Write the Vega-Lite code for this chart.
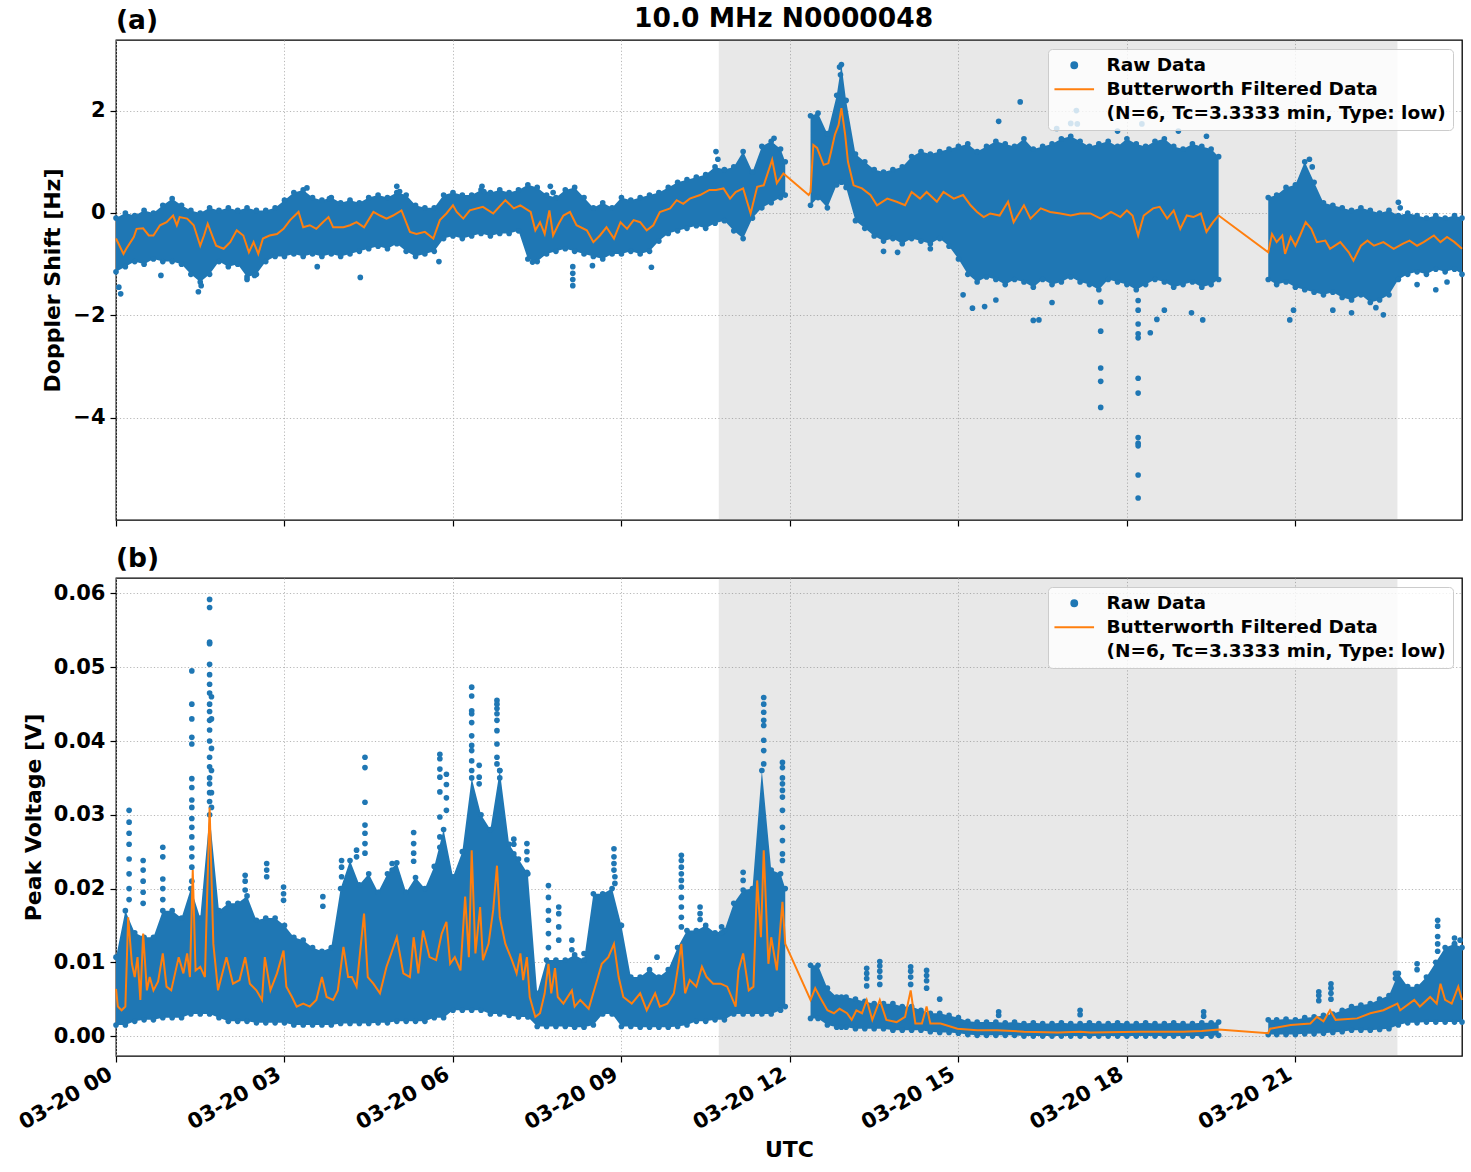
{
  "$schema": "https://vega.github.io/schema/vega-lite/v6.json",
  "padding": {"left": 14, "right": 9, "top": 6, "bottom": 4},
  "title": {"text": "10.0 MHz N0000048", "anchor": "middle", "dy": 32, "dx": 43},
  "datasets": {
    "shade": [{"start": "2024-03-20T10:44", "end": "2024-03-20T22:49"}],
    "band": [
      {"t": "2024-03-20T00:00", "s": 1, "dl": -1.15, "dh": -0.10, "vl": 0.0015, "vh": 0.0107},
      {"t": "2024-03-20T00:10", "s": 1, "dl": -1.05, "dh": 0.00, "vl": 0.0015, "vh": 0.0170},
      {"t": "2024-03-20T00:20", "s": 1, "dl": -0.95, "dh": -0.05, "vl": 0.0020, "vh": 0.0140},
      {"t": "2024-03-20T00:30", "s": 1, "dl": -1.00, "dh": 0.05, "vl": 0.0022, "vh": 0.0134},
      {"t": "2024-03-20T00:40", "s": 1, "dl": -0.90, "dh": 0.00, "vl": 0.0022, "vh": 0.0134},
      {"t": "2024-03-20T00:50", "s": 1, "dl": -0.95, "dh": 0.15, "vl": 0.0025, "vh": 0.0170},
      {"t": "2024-03-20T01:00", "s": 1, "dl": -0.95, "dh": 0.28, "vl": 0.0025, "vh": 0.0170},
      {"t": "2024-03-20T01:10", "s": 1, "dl": -1.00, "dh": 0.15, "vl": 0.0025, "vh": 0.0160},
      {"t": "2024-03-20T01:20", "s": 1, "dl": -1.20, "dh": 0.05, "vl": 0.0030, "vh": 0.0200},
      {"t": "2024-03-20T01:30", "s": 1, "dl": -1.35, "dh": 0.00, "vl": 0.0030, "vh": 0.0160},
      {"t": "2024-03-20T01:40", "s": 1, "dl": -1.20, "dh": 0.10, "vl": 0.0030, "vh": 0.0300},
      {"t": "2024-03-20T01:50", "s": 1, "dl": -0.95, "dh": 0.05, "vl": 0.0025, "vh": 0.0170},
      {"t": "2024-03-20T02:00", "s": 1, "dl": -1.05, "dh": 0.10, "vl": 0.0020, "vh": 0.0180},
      {"t": "2024-03-20T02:10", "s": 1, "dl": -1.00, "dh": 0.05, "vl": 0.0020, "vh": 0.0180},
      {"t": "2024-03-20T02:20", "s": 1, "dl": -1.25, "dh": 0.10, "vl": 0.0020, "vh": 0.0190},
      {"t": "2024-03-20T02:30", "s": 1, "dl": -1.20, "dh": 0.05, "vl": 0.0018, "vh": 0.0157},
      {"t": "2024-03-20T02:40", "s": 1, "dl": -0.95, "dh": 0.05, "vl": 0.0018, "vh": 0.0160},
      {"t": "2024-03-20T02:50", "s": 1, "dl": -0.85, "dh": 0.10, "vl": 0.0018, "vh": 0.0160},
      {"t": "2024-03-20T03:00", "s": 1, "dl": -0.85, "dh": 0.25, "vl": 0.0018, "vh": 0.0150},
      {"t": "2024-03-20T03:10", "s": 1, "dl": -0.80, "dh": 0.40, "vl": 0.0015, "vh": 0.0134},
      {"t": "2024-03-20T03:20", "s": 1, "dl": -0.85, "dh": 0.45, "vl": 0.0015, "vh": 0.0130},
      {"t": "2024-03-20T03:30", "s": 1, "dl": -0.80, "dh": 0.30, "vl": 0.0015, "vh": 0.0120},
      {"t": "2024-03-20T03:40", "s": 1, "dl": -0.85, "dh": 0.25, "vl": 0.0015, "vh": 0.0115},
      {"t": "2024-03-20T03:50", "s": 1, "dl": -0.80, "dh": 0.30, "vl": 0.0015, "vh": 0.0120},
      {"t": "2024-03-20T04:00", "s": 1, "dl": -0.85, "dh": 0.20, "vl": 0.0017, "vh": 0.0200},
      {"t": "2024-03-20T04:10", "s": 1, "dl": -0.80, "dh": 0.25, "vl": 0.0017, "vh": 0.0238},
      {"t": "2024-03-20T04:20", "s": 1, "dl": -0.75, "dh": 0.20, "vl": 0.0017, "vh": 0.0205},
      {"t": "2024-03-20T04:30", "s": 1, "dl": -0.70, "dh": 0.30, "vl": 0.0017, "vh": 0.0220},
      {"t": "2024-03-20T04:40", "s": 1, "dl": -0.65, "dh": 0.35, "vl": 0.0018, "vh": 0.0195},
      {"t": "2024-03-20T04:50", "s": 1, "dl": -0.70, "dh": 0.30, "vl": 0.0018, "vh": 0.0220},
      {"t": "2024-03-20T05:00", "s": 1, "dl": -0.60, "dh": 0.40, "vl": 0.0020, "vh": 0.0235},
      {"t": "2024-03-20T05:10", "s": 1, "dl": -0.75, "dh": 0.35, "vl": 0.0020, "vh": 0.0195},
      {"t": "2024-03-20T05:20", "s": 1, "dl": -0.85, "dh": 0.15, "vl": 0.0020, "vh": 0.0215},
      {"t": "2024-03-20T05:30", "s": 1, "dl": -0.80, "dh": 0.10, "vl": 0.0020, "vh": 0.0200},
      {"t": "2024-03-20T05:40", "s": 1, "dl": -0.75, "dh": 0.10, "vl": 0.0025, "vh": 0.0230},
      {"t": "2024-03-20T05:50", "s": 1, "dl": -0.50, "dh": 0.35, "vl": 0.0025, "vh": 0.0280},
      {"t": "2024-03-20T06:00", "s": 1, "dl": -0.45, "dh": 0.40, "vl": 0.0035, "vh": 0.0216},
      {"t": "2024-03-20T06:10", "s": 1, "dl": -0.50, "dh": 0.35, "vl": 0.0035, "vh": 0.0250},
      {"t": "2024-03-20T06:20", "s": 1, "dl": -0.45, "dh": 0.35, "vl": 0.0035, "vh": 0.0350},
      {"t": "2024-03-20T06:30", "s": 1, "dl": -0.40, "dh": 0.45, "vl": 0.0035, "vh": 0.0300},
      {"t": "2024-03-20T06:40", "s": 1, "dl": -0.45, "dh": 0.40, "vl": 0.0030, "vh": 0.0280},
      {"t": "2024-03-20T06:50", "s": 1, "dl": -0.40, "dh": 0.45, "vl": 0.0030, "vh": 0.0360},
      {"t": "2024-03-20T07:00", "s": 1, "dl": -0.40, "dh": 0.40, "vl": 0.0028, "vh": 0.0260},
      {"t": "2024-03-20T07:10", "s": 1, "dl": -0.35, "dh": 0.45, "vl": 0.0026, "vh": 0.0240},
      {"t": "2024-03-20T07:20", "s": 1, "dl": -0.90, "dh": 0.55, "vl": 0.0026, "vh": 0.0220},
      {"t": "2024-03-20T07:30", "s": 1, "dl": -0.95, "dh": 0.50, "vl": 0.0013, "vh": 0.0058},
      {"t": "2024-03-20T07:40", "s": 1, "dl": -0.80, "dh": 0.35, "vl": 0.0013, "vh": 0.0103},
      {"t": "2024-03-20T07:50", "s": 1, "dl": -0.75, "dh": 0.30, "vl": 0.0013, "vh": 0.0103},
      {"t": "2024-03-20T08:00", "s": 1, "dl": -0.70, "dh": 0.45, "vl": 0.0013, "vh": 0.0103},
      {"t": "2024-03-20T08:10", "s": 1, "dl": -0.75, "dh": 0.50, "vl": 0.0012, "vh": 0.0110},
      {"t": "2024-03-20T08:20", "s": 1, "dl": -0.80, "dh": 0.30, "vl": 0.0012, "vh": 0.0103},
      {"t": "2024-03-20T08:30", "s": 1, "dl": -0.85, "dh": 0.10, "vl": 0.0015, "vh": 0.0193},
      {"t": "2024-03-20T08:40", "s": 1, "dl": -0.90, "dh": 0.20, "vl": 0.0030, "vh": 0.0193},
      {"t": "2024-03-20T08:50", "s": 1, "dl": -0.80, "dh": 0.10, "vl": 0.0030, "vh": 0.0200},
      {"t": "2024-03-20T09:00", "s": 1, "dl": -0.80, "dh": 0.30, "vl": 0.0013, "vh": 0.0150},
      {"t": "2024-03-20T09:10", "s": 1, "dl": -0.75, "dh": 0.25, "vl": 0.0013, "vh": 0.0080},
      {"t": "2024-03-20T09:20", "s": 1, "dl": -0.80, "dh": 0.30, "vl": 0.0012, "vh": 0.0080},
      {"t": "2024-03-20T09:30", "s": 1, "dl": -0.75, "dh": 0.35, "vl": 0.0012, "vh": 0.0090},
      {"t": "2024-03-20T09:40", "s": 1, "dl": -0.55, "dh": 0.40, "vl": 0.0012, "vh": 0.0080},
      {"t": "2024-03-20T09:50", "s": 1, "dl": -0.40, "dh": 0.50, "vl": 0.0012, "vh": 0.0090},
      {"t": "2024-03-20T10:00", "s": 1, "dl": -0.35, "dh": 0.60, "vl": 0.0013, "vh": 0.0120},
      {"t": "2024-03-20T10:10", "s": 1, "dl": -0.30, "dh": 0.65, "vl": 0.0015, "vh": 0.0143},
      {"t": "2024-03-20T10:20", "s": 1, "dl": -0.25, "dh": 0.70, "vl": 0.0020, "vh": 0.0143},
      {"t": "2024-03-20T10:30", "s": 1, "dl": -0.30, "dh": 0.75, "vl": 0.0020, "vh": 0.0150},
      {"t": "2024-03-20T10:40", "s": 1, "dl": -0.20, "dh": 0.90, "vl": 0.0022, "vh": 0.0140},
      {"t": "2024-03-20T10:50", "s": 1, "dl": -0.15, "dh": 0.85, "vl": 0.0022, "vh": 0.0143},
      {"t": "2024-03-20T11:00", "s": 1, "dl": -0.35, "dh": 0.90, "vl": 0.0030, "vh": 0.0180},
      {"t": "2024-03-20T11:10", "s": 1, "dl": -0.50, "dh": 1.20, "vl": 0.0030, "vh": 0.0198},
      {"t": "2024-03-20T11:20", "s": 1, "dl": -0.10, "dh": 0.80, "vl": 0.0030, "vh": 0.0200},
      {"t": "2024-03-20T11:30", "s": 1, "dl": 0.10, "dh": 1.30, "vl": 0.0030, "vh": 0.0360},
      {"t": "2024-03-20T11:40", "s": 1, "dl": 0.20, "dh": 1.40, "vl": 0.0030, "vh": 0.0225},
      {"t": "2024-03-20T11:50", "s": 1, "dl": 0.30, "dh": 1.25, "vl": 0.0035, "vh": 0.0220},
      {"t": "2024-03-20T11:55", "s": 1, "dl": 0.35, "dh": 1.00, "vl": 0.0040, "vh": 0.0200},
      {"t": "2024-03-20T12:22", "s": 2, "dl": 0.15, "dh": 1.90, "vl": 0.0024, "vh": 0.0096},
      {"t": "2024-03-20T12:30", "s": 2, "dl": 0.30, "dh": 1.95, "vl": 0.0024, "vh": 0.0096},
      {"t": "2024-03-20T12:40", "s": 2, "dl": 0.10, "dh": 1.55, "vl": 0.0015, "vh": 0.0065},
      {"t": "2024-03-20T12:50", "s": 2, "dl": 0.55, "dh": 2.30, "vl": 0.0012, "vh": 0.0053},
      {"t": "2024-03-20T12:55", "s": 2, "dl": 0.60, "dh": 2.90, "vl": 0.0012, "vh": 0.0053},
      {"t": "2024-03-20T13:00", "s": 2, "dl": 0.50, "dh": 2.20, "vl": 0.0012, "vh": 0.0053},
      {"t": "2024-03-20T13:10", "s": 2, "dl": -0.15, "dh": 1.15, "vl": 0.0010, "vh": 0.0050},
      {"t": "2024-03-20T13:20", "s": 2, "dl": -0.30, "dh": 1.00, "vl": 0.0010, "vh": 0.0047},
      {"t": "2024-03-20T13:30", "s": 2, "dl": -0.45, "dh": 0.85, "vl": 0.0010, "vh": 0.0044},
      {"t": "2024-03-20T13:40", "s": 2, "dl": -0.55, "dh": 0.80, "vl": 0.0010, "vh": 0.0044},
      {"t": "2024-03-20T13:50", "s": 2, "dl": -0.50, "dh": 0.85, "vl": 0.0008, "vh": 0.0044},
      {"t": "2024-03-20T14:00", "s": 2, "dl": -0.60, "dh": 0.90, "vl": 0.0008, "vh": 0.0040},
      {"t": "2024-03-20T14:10", "s": 2, "dl": -0.50, "dh": 1.10, "vl": 0.0008, "vh": 0.0040},
      {"t": "2024-03-20T14:20", "s": 2, "dl": -0.55, "dh": 1.20, "vl": 0.0008, "vh": 0.0035},
      {"t": "2024-03-20T14:30", "s": 2, "dl": -0.60, "dh": 1.15, "vl": 0.0006, "vh": 0.0031},
      {"t": "2024-03-20T14:40", "s": 2, "dl": -0.50, "dh": 1.20, "vl": 0.0005, "vh": 0.0031},
      {"t": "2024-03-20T14:50", "s": 2, "dl": -0.65, "dh": 1.25, "vl": 0.0005, "vh": 0.0028},
      {"t": "2024-03-20T15:00", "s": 2, "dl": -0.90, "dh": 1.30, "vl": 0.0004, "vh": 0.0025},
      {"t": "2024-03-20T15:10", "s": 2, "dl": -1.20, "dh": 1.35, "vl": 0.0002, "vh": 0.0020},
      {"t": "2024-03-20T15:20", "s": 2, "dl": -1.35, "dh": 1.20, "vl": 0.0001, "vh": 0.0019},
      {"t": "2024-03-20T15:30", "s": 2, "dl": -1.25, "dh": 1.30, "vl": 0.0001, "vh": 0.0019},
      {"t": "2024-03-20T15:40", "s": 2, "dl": -1.30, "dh": 1.40, "vl": 0.0001, "vh": 0.0019},
      {"t": "2024-03-20T15:50", "s": 2, "dl": -1.40, "dh": 1.35, "vl": 0.0001, "vh": 0.0018},
      {"t": "2024-03-20T16:00", "s": 2, "dl": -1.30, "dh": 1.30, "vl": 0.0001, "vh": 0.0019},
      {"t": "2024-03-20T16:10", "s": 2, "dl": -1.35, "dh": 1.45, "vl": 0.0000, "vh": 0.0017},
      {"t": "2024-03-20T16:20", "s": 2, "dl": -1.45, "dh": 1.25, "vl": 0.0000, "vh": 0.0018},
      {"t": "2024-03-20T16:30", "s": 2, "dl": -1.30, "dh": 1.30, "vl": 0.0000, "vh": 0.0017},
      {"t": "2024-03-20T16:40", "s": 2, "dl": -1.40, "dh": 1.35, "vl": 0.0000, "vh": 0.0017},
      {"t": "2024-03-20T16:50", "s": 2, "dl": -1.35, "dh": 1.45, "vl": 0.0000, "vh": 0.0018},
      {"t": "2024-03-20T17:00", "s": 2, "dl": -1.25, "dh": 1.50, "vl": 0.0000, "vh": 0.0017},
      {"t": "2024-03-20T17:10", "s": 2, "dl": -1.35, "dh": 1.40, "vl": 0.0000, "vh": 0.0017},
      {"t": "2024-03-20T17:20", "s": 2, "dl": -1.40, "dh": 1.30, "vl": 0.0000, "vh": 0.0018},
      {"t": "2024-03-20T17:30", "s": 2, "dl": -1.50, "dh": 1.35, "vl": 0.0000, "vh": 0.0017},
      {"t": "2024-03-20T17:40", "s": 2, "dl": -1.30, "dh": 1.40, "vl": 0.0000, "vh": 0.0017},
      {"t": "2024-03-20T17:50", "s": 2, "dl": -1.35, "dh": 1.30, "vl": 0.0000, "vh": 0.0018},
      {"t": "2024-03-20T18:00", "s": 2, "dl": -1.40, "dh": 1.45, "vl": 0.0000, "vh": 0.0017},
      {"t": "2024-03-20T18:10", "s": 2, "dl": -1.50, "dh": 1.35, "vl": 0.0000, "vh": 0.0017},
      {"t": "2024-03-20T18:20", "s": 2, "dl": -1.40, "dh": 1.30, "vl": 0.0000, "vh": 0.0018},
      {"t": "2024-03-20T18:30", "s": 2, "dl": -1.30, "dh": 1.40, "vl": 0.0000, "vh": 0.0017},
      {"t": "2024-03-20T18:40", "s": 2, "dl": -1.35, "dh": 1.45, "vl": 0.0000, "vh": 0.0017},
      {"t": "2024-03-20T18:50", "s": 2, "dl": -1.45, "dh": 1.30, "vl": 0.0000, "vh": 0.0018},
      {"t": "2024-03-20T19:00", "s": 2, "dl": -1.40, "dh": 1.25, "vl": 0.0000, "vh": 0.0017},
      {"t": "2024-03-20T19:10", "s": 2, "dl": -1.35, "dh": 1.35, "vl": 0.0000, "vh": 0.0017},
      {"t": "2024-03-20T19:20", "s": 2, "dl": -1.45, "dh": 1.30, "vl": 0.0000, "vh": 0.0018},
      {"t": "2024-03-20T19:30", "s": 2, "dl": -1.40, "dh": 1.25, "vl": 0.0000, "vh": 0.0018},
      {"t": "2024-03-20T19:38", "s": 2, "dl": -1.30, "dh": 1.10, "vl": 0.0001, "vh": 0.0019},
      {"t": "2024-03-20T20:31", "s": 3, "dl": -1.30, "dh": 0.30, "vl": 0.0002, "vh": 0.0022},
      {"t": "2024-03-20T20:40", "s": 3, "dl": -1.40, "dh": 0.35, "vl": 0.0002, "vh": 0.0022},
      {"t": "2024-03-20T20:50", "s": 3, "dl": -1.35, "dh": 0.50, "vl": 0.0002, "vh": 0.0023},
      {"t": "2024-03-20T21:00", "s": 3, "dl": -1.45, "dh": 0.55, "vl": 0.0002, "vh": 0.0022},
      {"t": "2024-03-20T21:10", "s": 3, "dl": -1.50, "dh": 1.00, "vl": 0.0003, "vh": 0.0025},
      {"t": "2024-03-20T21:20", "s": 3, "dl": -1.55, "dh": 0.60, "vl": 0.0003, "vh": 0.0026},
      {"t": "2024-03-20T21:30", "s": 3, "dl": -1.60, "dh": 0.20, "vl": 0.0004, "vh": 0.0028},
      {"t": "2024-03-20T21:40", "s": 3, "dl": -1.55, "dh": 0.15, "vl": 0.0005, "vh": 0.0030},
      {"t": "2024-03-20T21:50", "s": 3, "dl": -1.65, "dh": 0.10, "vl": 0.0006, "vh": 0.0035},
      {"t": "2024-03-20T22:00", "s": 3, "dl": -1.70, "dh": 0.05, "vl": 0.0008, "vh": 0.0040},
      {"t": "2024-03-20T22:10", "s": 3, "dl": -1.60, "dh": 0.10, "vl": 0.0008, "vh": 0.0042},
      {"t": "2024-03-20T22:20", "s": 3, "dl": -1.75, "dh": 0.05, "vl": 0.0008, "vh": 0.0044},
      {"t": "2024-03-20T22:30", "s": 3, "dl": -1.70, "dh": 0.00, "vl": 0.0009, "vh": 0.0050},
      {"t": "2024-03-20T22:40", "s": 3, "dl": -1.60, "dh": 0.05, "vl": 0.0010, "vh": 0.0055},
      {"t": "2024-03-20T22:50", "s": 3, "dl": -1.30, "dh": -0.05, "vl": 0.0015, "vh": 0.0085},
      {"t": "2024-03-20T23:00", "s": 3, "dl": -1.20, "dh": 0.00, "vl": 0.0018, "vh": 0.0067},
      {"t": "2024-03-20T23:10", "s": 3, "dl": -1.15, "dh": -0.05, "vl": 0.0018, "vh": 0.0067},
      {"t": "2024-03-20T23:20", "s": 3, "dl": -1.20, "dh": -0.10, "vl": 0.0019, "vh": 0.0080},
      {"t": "2024-03-20T23:30", "s": 3, "dl": -1.10, "dh": -0.05, "vl": 0.0019, "vh": 0.0100},
      {"t": "2024-03-20T23:40", "s": 3, "dl": -1.15, "dh": -0.10, "vl": 0.0019, "vh": 0.0120},
      {"t": "2024-03-20T23:50", "s": 3, "dl": -1.10, "dh": -0.05, "vl": 0.0019, "vh": 0.0125},
      {"t": "2024-03-20T23:58", "s": 3, "dl": -1.20, "dh": -0.10, "vl": 0.0019, "vh": 0.0120}
    ],
    "od": [
      {"t": "2024-03-20T00:03", "d": -1.45}, {"t": "2024-03-20T00:05", "d": -1.58}, {"t": "2024-03-20T00:48", "d": -1.22},
      {"t": "2024-03-20T01:28", "d": -1.54}, {"t": "2024-03-20T01:31", "d": -1.42}, {"t": "2024-03-20T02:20", "d": -1.30},
      {"t": "2024-03-20T02:28", "d": -1.22}, {"t": "2024-03-20T03:24", "d": 0.49}, {"t": "2024-03-20T03:48", "d": 0.28},
      {"t": "2024-03-20T03:35", "d": -1.05}, {"t": "2024-03-20T04:21", "d": -1.26}, {"t": "2024-03-20T05:00", "d": 0.52},
      {"t": "2024-03-20T05:03", "d": 0.42}, {"t": "2024-03-20T05:45", "d": -0.95}, {"t": "2024-03-20T06:31", "d": 0.52},
      {"t": "2024-03-20T06:33", "d": 0.42}, {"t": "2024-03-20T07:44", "d": 0.52}, {"t": "2024-03-20T07:47", "d": 0.40},
      {"t": "2024-03-20T07:25", "d": -0.96}, {"t": "2024-03-20T08:08", "d": -1.05}, {"t": "2024-03-20T08:08", "d": -1.18},
      {"t": "2024-03-20T08:08", "d": -1.30}, {"t": "2024-03-20T08:08", "d": -1.42}, {"t": "2024-03-20T08:29", "d": -1.03},
      {"t": "2024-03-20T09:32", "d": -1.06}, {"t": "2024-03-20T10:41", "d": 1.20}, {"t": "2024-03-20T10:43", "d": 1.05},
      {"t": "2024-03-20T11:43", "d": 1.46}, {"t": "2024-03-20T11:41", "d": 1.30}, {"t": "2024-03-20T12:53", "d": 2.85},
      {"t": "2024-03-20T12:54", "d": 2.70}, {"t": "2024-03-20T13:40", "d": -0.75}, {"t": "2024-03-20T13:55", "d": -0.77},
      {"t": "2024-03-20T14:30", "d": -0.70}, {"t": "2024-03-20T15:05", "d": -1.60}, {"t": "2024-03-20T15:15", "d": -1.86},
      {"t": "2024-03-20T15:28", "d": -1.83}, {"t": "2024-03-20T15:40", "d": -1.70}, {"t": "2024-03-20T15:43", "d": 1.79},
      {"t": "2024-03-20T16:06", "d": 2.17}, {"t": "2024-03-20T16:20", "d": -2.10}, {"t": "2024-03-20T16:26", "d": -2.09},
      {"t": "2024-03-20T16:40", "d": -1.75}, {"t": "2024-03-20T16:45", "d": 1.65}, {"t": "2024-03-20T17:00", "d": 1.75},
      {"t": "2024-03-20T17:06", "d": 2.00}, {"t": "2024-03-20T17:07", "d": 1.74}, {"t": "2024-03-20T17:32", "d": -1.74},
      {"t": "2024-03-20T17:32", "d": -2.31}, {"t": "2024-03-20T17:32", "d": -3.03}, {"t": "2024-03-20T17:32", "d": -3.29},
      {"t": "2024-03-20T17:32", "d": -3.80}, {"t": "2024-03-20T17:50", "d": 1.60}, {"t": "2024-03-20T18:12", "d": -1.71},
      {"t": "2024-03-20T18:12", "d": -1.90}, {"t": "2024-03-20T18:12", "d": -2.17}, {"t": "2024-03-20T18:12", "d": -2.36},
      {"t": "2024-03-20T18:12", "d": -2.44}, {"t": "2024-03-20T18:12", "d": -3.23}, {"t": "2024-03-20T18:12", "d": -3.52},
      {"t": "2024-03-20T18:12", "d": -4.39}, {"t": "2024-03-20T18:12", "d": -4.50}, {"t": "2024-03-20T18:12", "d": -4.55},
      {"t": "2024-03-20T18:12", "d": -5.12}, {"t": "2024-03-20T18:12", "d": -5.57}, {"t": "2024-03-20T18:16", "d": 1.74},
      {"t": "2024-03-20T18:25", "d": -2.34}, {"t": "2024-03-20T18:32", "d": -2.08}, {"t": "2024-03-20T18:40", "d": -1.90},
      {"t": "2024-03-20T18:55", "d": 1.60}, {"t": "2024-03-20T19:09", "d": -1.95}, {"t": "2024-03-20T19:21", "d": -2.09},
      {"t": "2024-03-20T19:25", "d": 1.50}, {"t": "2024-03-20T20:54", "d": -2.09}, {"t": "2024-03-20T20:58", "d": -1.90},
      {"t": "2024-03-20T21:15", "d": 1.05}, {"t": "2024-03-20T21:18", "d": 0.90}, {"t": "2024-03-20T21:40", "d": -1.90},
      {"t": "2024-03-20T22:00", "d": -1.95}, {"t": "2024-03-20T22:34", "d": -1.99}, {"t": "2024-03-20T22:26", "d": -1.85},
      {"t": "2024-03-20T22:50", "d": 0.21}, {"t": "2024-03-20T22:52", "d": 0.10}, {"t": "2024-03-20T23:30", "d": -1.50},
      {"t": "2024-03-20T23:42", "d": -1.35}, {"t": "2024-03-20T23:10", "d": -1.40}
    ],
    "ov": [
      {"t": "2024-03-20T00:14", "v": 0.0306}, {"t": "2024-03-20T00:14", "v": 0.0290}, {"t": "2024-03-20T00:14", "v": 0.0275}, {"t": "2024-03-20T00:14", "v": 0.0260}, {"t": "2024-03-20T00:14", "v": 0.0240}, {"t": "2024-03-20T00:14", "v": 0.0220}, {"t": "2024-03-20T00:14", "v": 0.0200}, {"t": "2024-03-20T00:14", "v": 0.0185},
      {"t": "2024-03-20T00:29", "v": 0.0238}, {"t": "2024-03-20T00:29", "v": 0.0225}, {"t": "2024-03-20T00:29", "v": 0.0210}, {"t": "2024-03-20T00:29", "v": 0.0195}, {"t": "2024-03-20T00:29", "v": 0.0180},
      {"t": "2024-03-20T00:50", "v": 0.0256}, {"t": "2024-03-20T00:50", "v": 0.0243}, {"t": "2024-03-20T00:50", "v": 0.0213}, {"t": "2024-03-20T00:50", "v": 0.0200}, {"t": "2024-03-20T00:50", "v": 0.0185},
      {"t": "2024-03-20T01:21", "v": 0.0495}, {"t": "2024-03-20T01:21", "v": 0.0450}, {"t": "2024-03-20T01:21", "v": 0.0430}, {"t": "2024-03-20T01:21", "v": 0.0405}, {"t": "2024-03-20T01:21", "v": 0.0396}, {"t": "2024-03-20T01:21", "v": 0.0349}, {"t": "2024-03-20T01:21", "v": 0.0337}, {"t": "2024-03-20T01:21", "v": 0.0320}, {"t": "2024-03-20T01:21", "v": 0.0310}, {"t": "2024-03-20T01:21", "v": 0.0295}, {"t": "2024-03-20T01:21", "v": 0.0283}, {"t": "2024-03-20T01:21", "v": 0.0270}, {"t": "2024-03-20T01:21", "v": 0.0255}, {"t": "2024-03-20T01:21", "v": 0.0243}, {"t": "2024-03-20T01:21", "v": 0.0229}, {"t": "2024-03-20T01:21", "v": 0.0210},
      {"t": "2024-03-20T01:40", "v": 0.0592}, {"t": "2024-03-20T01:40", "v": 0.0581}, {"t": "2024-03-20T01:40", "v": 0.0534}, {"t": "2024-03-20T01:40", "v": 0.0532}, {"t": "2024-03-20T01:40", "v": 0.0504}, {"t": "2024-03-20T01:40", "v": 0.0490}, {"t": "2024-03-20T01:40", "v": 0.0477}, {"t": "2024-03-20T01:40", "v": 0.0465}, {"t": "2024-03-20T01:40", "v": 0.0450}, {"t": "2024-03-20T01:40", "v": 0.0440}, {"t": "2024-03-20T01:40", "v": 0.0428}, {"t": "2024-03-20T01:40", "v": 0.0415}, {"t": "2024-03-20T01:40", "v": 0.0400}, {"t": "2024-03-20T01:40", "v": 0.0378}, {"t": "2024-03-20T01:40", "v": 0.0365}, {"t": "2024-03-20T01:40", "v": 0.0350}, {"t": "2024-03-20T01:40", "v": 0.0342}, {"t": "2024-03-20T01:40", "v": 0.0330}, {"t": "2024-03-20T01:40", "v": 0.0318},
      {"t": "2024-03-20T01:42", "v": 0.0460}, {"t": "2024-03-20T01:42", "v": 0.0430}, {"t": "2024-03-20T01:42", "v": 0.0390}, {"t": "2024-03-20T01:42", "v": 0.0360}, {"t": "2024-03-20T01:42", "v": 0.0330}, {"t": "2024-03-20T01:42", "v": 0.0310},
      {"t": "2024-03-20T02:18", "v": 0.0218}, {"t": "2024-03-20T02:18", "v": 0.0210}, {"t": "2024-03-20T02:18", "v": 0.0198},
      {"t": "2024-03-20T02:41", "v": 0.0234}, {"t": "2024-03-20T02:41", "v": 0.0225}, {"t": "2024-03-20T02:41", "v": 0.0216},
      {"t": "2024-03-20T02:59", "v": 0.0202}, {"t": "2024-03-20T02:59", "v": 0.0193}, {"t": "2024-03-20T02:59", "v": 0.0184},
      {"t": "2024-03-20T03:41", "v": 0.0189}, {"t": "2024-03-20T03:41", "v": 0.0176},
      {"t": "2024-03-20T04:01", "v": 0.0238}, {"t": "2024-03-20T04:01", "v": 0.0229}, {"t": "2024-03-20T04:01", "v": 0.0216},
      {"t": "2024-03-20T04:17", "v": 0.0252}, {"t": "2024-03-20T04:17", "v": 0.0243},
      {"t": "2024-03-20T04:26", "v": 0.0378}, {"t": "2024-03-20T04:26", "v": 0.0364}, {"t": "2024-03-20T04:26", "v": 0.0317}, {"t": "2024-03-20T04:26", "v": 0.0286}, {"t": "2024-03-20T04:26", "v": 0.0275}, {"t": "2024-03-20T04:26", "v": 0.0261}, {"t": "2024-03-20T04:26", "v": 0.0248},
      {"t": "2024-03-20T04:55", "v": 0.0234}, {"t": "2024-03-20T04:55", "v": 0.0225},
      {"t": "2024-03-20T05:18", "v": 0.0276}, {"t": "2024-03-20T05:18", "v": 0.0261}, {"t": "2024-03-20T05:18", "v": 0.0248}, {"t": "2024-03-20T05:18", "v": 0.0237},
      {"t": "2024-03-20T05:46", "v": 0.0382}, {"t": "2024-03-20T05:46", "v": 0.0376}, {"t": "2024-03-20T05:46", "v": 0.0362}, {"t": "2024-03-20T05:46", "v": 0.0351}, {"t": "2024-03-20T05:46", "v": 0.0331}, {"t": "2024-03-20T05:46", "v": 0.0297}, {"t": "2024-03-20T05:46", "v": 0.0270}, {"t": "2024-03-20T05:46", "v": 0.0256},
      {"t": "2024-03-20T05:53", "v": 0.0355}, {"t": "2024-03-20T05:53", "v": 0.0341}, {"t": "2024-03-20T05:53", "v": 0.0323}, {"t": "2024-03-20T05:53", "v": 0.0306},
      {"t": "2024-03-20T06:20", "v": 0.0473}, {"t": "2024-03-20T06:20", "v": 0.0461}, {"t": "2024-03-20T06:20", "v": 0.0441}, {"t": "2024-03-20T06:20", "v": 0.0437}, {"t": "2024-03-20T06:20", "v": 0.0425}, {"t": "2024-03-20T06:20", "v": 0.0407}, {"t": "2024-03-20T06:20", "v": 0.0394}, {"t": "2024-03-20T06:20", "v": 0.0387}, {"t": "2024-03-20T06:20", "v": 0.0373}, {"t": "2024-03-20T06:20", "v": 0.0360},
      {"t": "2024-03-20T06:28", "v": 0.0367}, {"t": "2024-03-20T06:28", "v": 0.0351}, {"t": "2024-03-20T06:28", "v": 0.0342},
      {"t": "2024-03-20T06:47", "v": 0.0455}, {"t": "2024-03-20T06:47", "v": 0.0450}, {"t": "2024-03-20T06:47", "v": 0.0444}, {"t": "2024-03-20T06:47", "v": 0.0437}, {"t": "2024-03-20T06:47", "v": 0.0428}, {"t": "2024-03-20T06:47", "v": 0.0414}, {"t": "2024-03-20T06:47", "v": 0.0396}, {"t": "2024-03-20T06:47", "v": 0.0378}, {"t": "2024-03-20T06:47", "v": 0.0369},
      {"t": "2024-03-20T06:50", "v": 0.0360}, {"t": "2024-03-20T06:50", "v": 0.0350},
      {"t": "2024-03-20T07:05", "v": 0.0267}, {"t": "2024-03-20T07:05", "v": 0.0260}, {"t": "2024-03-20T07:05", "v": 0.0247},
      {"t": "2024-03-20T07:19", "v": 0.0261}, {"t": "2024-03-20T07:19", "v": 0.0250}, {"t": "2024-03-20T07:19", "v": 0.0239}, {"t": "2024-03-20T07:19", "v": 0.0222},
      {"t": "2024-03-20T07:42", "v": 0.0204}, {"t": "2024-03-20T07:42", "v": 0.0188}, {"t": "2024-03-20T07:42", "v": 0.0170}, {"t": "2024-03-20T07:42", "v": 0.0157}, {"t": "2024-03-20T07:42", "v": 0.0139}, {"t": "2024-03-20T07:42", "v": 0.0120},
      {"t": "2024-03-20T07:53", "v": 0.0175}, {"t": "2024-03-20T07:53", "v": 0.0166}, {"t": "2024-03-20T07:53", "v": 0.0148}, {"t": "2024-03-20T07:53", "v": 0.0130},
      {"t": "2024-03-20T08:07", "v": 0.0130}, {"t": "2024-03-20T08:07", "v": 0.0117},
      {"t": "2024-03-20T08:20", "v": 0.0112},
      {"t": "2024-03-20T08:52", "v": 0.0254}, {"t": "2024-03-20T08:52", "v": 0.0243}, {"t": "2024-03-20T08:52", "v": 0.0234}, {"t": "2024-03-20T08:52", "v": 0.0225}, {"t": "2024-03-20T08:53", "v": 0.0216}, {"t": "2024-03-20T08:53", "v": 0.0207},
      {"t": "2024-03-20T09:38", "v": 0.0107},
      {"t": "2024-03-20T10:04", "v": 0.0245}, {"t": "2024-03-20T10:04", "v": 0.0238}, {"t": "2024-03-20T10:04", "v": 0.0229}, {"t": "2024-03-20T10:04", "v": 0.0220}, {"t": "2024-03-20T10:04", "v": 0.0211}, {"t": "2024-03-20T10:04", "v": 0.0202}, {"t": "2024-03-20T10:04", "v": 0.0188}, {"t": "2024-03-20T10:04", "v": 0.0175}, {"t": "2024-03-20T10:04", "v": 0.0161}, {"t": "2024-03-20T10:04", "v": 0.0148},
      {"t": "2024-03-20T10:24", "v": 0.0175}, {"t": "2024-03-20T10:24", "v": 0.0166}, {"t": "2024-03-20T10:24", "v": 0.0158},
      {"t": "2024-03-20T10:47", "v": 0.0148}, {"t": "2024-03-20T10:47", "v": 0.0140},
      {"t": "2024-03-20T11:10", "v": 0.0222}, {"t": "2024-03-20T11:10", "v": 0.0211},
      {"t": "2024-03-20T11:32", "v": 0.0459}, {"t": "2024-03-20T11:32", "v": 0.0450}, {"t": "2024-03-20T11:32", "v": 0.0439}, {"t": "2024-03-20T11:32", "v": 0.0428}, {"t": "2024-03-20T11:32", "v": 0.0421}, {"t": "2024-03-20T11:32", "v": 0.0401}, {"t": "2024-03-20T11:32", "v": 0.0387}, {"t": "2024-03-20T11:32", "v": 0.0369},
      {"t": "2024-03-20T11:52", "v": 0.0371}, {"t": "2024-03-20T11:52", "v": 0.0364}, {"t": "2024-03-20T11:52", "v": 0.0350}, {"t": "2024-03-20T11:52", "v": 0.0342}, {"t": "2024-03-20T11:52", "v": 0.0333}, {"t": "2024-03-20T11:52", "v": 0.0324}, {"t": "2024-03-20T11:52", "v": 0.0306}, {"t": "2024-03-20T11:52", "v": 0.0283}, {"t": "2024-03-20T11:52", "v": 0.0265}, {"t": "2024-03-20T11:52", "v": 0.0247}, {"t": "2024-03-20T11:52", "v": 0.0238},
      {"t": "2024-03-20T13:22", "v": 0.0092}, {"t": "2024-03-20T13:22", "v": 0.0085}, {"t": "2024-03-20T13:22", "v": 0.0078}, {"t": "2024-03-20T13:22", "v": 0.0068},
      {"t": "2024-03-20T13:36", "v": 0.0101}, {"t": "2024-03-20T13:36", "v": 0.0095}, {"t": "2024-03-20T13:36", "v": 0.0088}, {"t": "2024-03-20T13:36", "v": 0.0080}, {"t": "2024-03-20T13:36", "v": 0.0070},
      {"t": "2024-03-20T14:09", "v": 0.0094}, {"t": "2024-03-20T14:09", "v": 0.0088}, {"t": "2024-03-20T14:09", "v": 0.0080}, {"t": "2024-03-20T14:09", "v": 0.0070},
      {"t": "2024-03-20T14:26", "v": 0.0089}, {"t": "2024-03-20T14:26", "v": 0.0082}, {"t": "2024-03-20T14:26", "v": 0.0075}, {"t": "2024-03-20T14:26", "v": 0.0065},
      {"t": "2024-03-20T14:40", "v": 0.0050}, {"t": "2024-03-20T15:43", "v": 0.0033}, {"t": "2024-03-20T15:43", "v": 0.0028},
      {"t": "2024-03-20T17:10", "v": 0.0035}, {"t": "2024-03-20T17:10", "v": 0.0029}, {"t": "2024-03-20T19:22", "v": 0.0033}, {"t": "2024-03-20T19:22", "v": 0.0027},
      {"t": "2024-03-20T21:25", "v": 0.0060}, {"t": "2024-03-20T21:25", "v": 0.0055}, {"t": "2024-03-20T21:25", "v": 0.0048},
      {"t": "2024-03-20T21:38", "v": 0.0071}, {"t": "2024-03-20T21:38", "v": 0.0065}, {"t": "2024-03-20T21:38", "v": 0.0058}, {"t": "2024-03-20T21:38", "v": 0.0050},
      {"t": "2024-03-20T22:47", "v": 0.0085}, {"t": "2024-03-20T22:47", "v": 0.0078},
      {"t": "2024-03-20T23:10", "v": 0.0098}, {"t": "2024-03-20T23:10", "v": 0.0090},
      {"t": "2024-03-20T23:32", "v": 0.0157}, {"t": "2024-03-20T23:32", "v": 0.0149}, {"t": "2024-03-20T23:32", "v": 0.0135}, {"t": "2024-03-20T23:32", "v": 0.0125}, {"t": "2024-03-20T23:32", "v": 0.0115},
      {"t": "2024-03-20T23:50", "v": 0.0133}, {"t": "2024-03-20T23:50", "v": 0.0125}, {"t": "2024-03-20T23:56", "v": 0.0130}
    ],
    "fd": [
      {"t": "2024-03-20T00:00", "d": -0.50}, {"t": "2024-03-20T00:08", "d": -0.80}, {"t": "2024-03-20T00:11", "d": -0.70}, {"t": "2024-03-20T00:19", "d": -0.47}, {"t": "2024-03-20T00:22", "d": -0.31}, {"t": "2024-03-20T00:29", "d": -0.30}, {"t": "2024-03-20T00:35", "d": -0.44}, {"t": "2024-03-20T00:40", "d": -0.44}, {"t": "2024-03-20T00:47", "d": -0.24}, {"t": "2024-03-20T00:54", "d": -0.18},
      {"t": "2024-03-20T01:01", "d": -0.05}, {"t": "2024-03-20T01:05", "d": -0.24}, {"t": "2024-03-20T01:08", "d": -0.08}, {"t": "2024-03-20T01:16", "d": -0.11}, {"t": "2024-03-20T01:23", "d": -0.24}, {"t": "2024-03-20T01:30", "d": -0.64}, {"t": "2024-03-20T01:34", "d": -0.44}, {"t": "2024-03-20T01:38", "d": -0.21}, {"t": "2024-03-20T01:44", "d": -0.50}, {"t": "2024-03-20T01:47", "d": -0.64}, {"t": "2024-03-20T01:55", "d": -0.70},
      {"t": "2024-03-20T02:02", "d": -0.57}, {"t": "2024-03-20T02:09", "d": -0.34}, {"t": "2024-03-20T02:16", "d": -0.44}, {"t": "2024-03-20T02:22", "d": -0.77}, {"t": "2024-03-20T02:27", "d": -0.57}, {"t": "2024-03-20T02:32", "d": -0.80}, {"t": "2024-03-20T02:37", "d": -0.50}, {"t": "2024-03-20T02:44", "d": -0.44}, {"t": "2024-03-20T02:52", "d": -0.41}, {"t": "2024-03-20T02:59", "d": -0.31},
      {"t": "2024-03-20T03:06", "d": -0.14}, {"t": "2024-03-20T03:15", "d": 0.02}, {"t": "2024-03-20T03:20", "d": -0.28}, {"t": "2024-03-20T03:27", "d": -0.24}, {"t": "2024-03-20T03:34", "d": -0.31}, {"t": "2024-03-20T03:41", "d": -0.18}, {"t": "2024-03-20T03:47", "d": -0.08}, {"t": "2024-03-20T03:52", "d": -0.28},
      {"t": "2024-03-20T04:03", "d": -0.28}, {"t": "2024-03-20T04:10", "d": -0.24}, {"t": "2024-03-20T04:17", "d": -0.18}, {"t": "2024-03-20T04:25", "d": -0.28}, {"t": "2024-03-20T04:35", "d": 0.02}, {"t": "2024-03-20T04:42", "d": -0.05}, {"t": "2024-03-20T04:49", "d": -0.11}, {"t": "2024-03-20T04:56", "d": -0.05},
      {"t": "2024-03-20T05:05", "d": 0.05}, {"t": "2024-03-20T05:14", "d": -0.37}, {"t": "2024-03-20T05:21", "d": -0.41}, {"t": "2024-03-20T05:30", "d": -0.37}, {"t": "2024-03-20T05:39", "d": -0.50}, {"t": "2024-03-20T05:46", "d": -0.14}, {"t": "2024-03-20T05:53", "d": -0.01},
      {"t": "2024-03-20T06:00", "d": 0.15}, {"t": "2024-03-20T06:04", "d": 0.02}, {"t": "2024-03-20T06:11", "d": -0.11}, {"t": "2024-03-20T06:18", "d": 0.05}, {"t": "2024-03-20T06:32", "d": 0.12}, {"t": "2024-03-20T06:43", "d": -0.01}, {"t": "2024-03-20T06:56", "d": 0.25},
      {"t": "2024-03-20T07:05", "d": 0.09}, {"t": "2024-03-20T07:12", "d": 0.15}, {"t": "2024-03-20T07:23", "d": 0.02}, {"t": "2024-03-20T07:28", "d": -0.34}, {"t": "2024-03-20T07:33", "d": -0.18}, {"t": "2024-03-20T07:38", "d": -0.41}, {"t": "2024-03-20T07:43", "d": 0.05}, {"t": "2024-03-20T07:47", "d": -0.44}, {"t": "2024-03-20T07:53", "d": -0.21}, {"t": "2024-03-20T07:58", "d": -0.05},
      {"t": "2024-03-20T08:05", "d": 0.02}, {"t": "2024-03-20T08:12", "d": -0.24}, {"t": "2024-03-20T08:23", "d": -0.34}, {"t": "2024-03-20T08:30", "d": -0.57}, {"t": "2024-03-20T08:37", "d": -0.44}, {"t": "2024-03-20T08:44", "d": -0.28}, {"t": "2024-03-20T08:52", "d": -0.50}, {"t": "2024-03-20T08:59", "d": -0.18},
      {"t": "2024-03-20T09:06", "d": -0.31}, {"t": "2024-03-20T09:13", "d": -0.14}, {"t": "2024-03-20T09:20", "d": -0.18}, {"t": "2024-03-20T09:27", "d": -0.34}, {"t": "2024-03-20T09:34", "d": -0.24}, {"t": "2024-03-20T09:41", "d": 0.02}, {"t": "2024-03-20T09:52", "d": 0.09}, {"t": "2024-03-20T09:59", "d": 0.25},
      {"t": "2024-03-20T10:06", "d": 0.18}, {"t": "2024-03-20T10:13", "d": 0.28}, {"t": "2024-03-20T10:24", "d": 0.35}, {"t": "2024-03-20T10:34", "d": 0.45}, {"t": "2024-03-20T10:41", "d": 0.45}, {"t": "2024-03-20T10:49", "d": 0.48}, {"t": "2024-03-20T10:56", "d": 0.28},
      {"t": "2024-03-20T11:02", "d": 0.41}, {"t": "2024-03-20T11:10", "d": 0.48}, {"t": "2024-03-20T11:18", "d": -0.01}, {"t": "2024-03-20T11:25", "d": 0.51}, {"t": "2024-03-20T11:32", "d": 0.54}, {"t": "2024-03-20T11:41", "d": 1.04}, {"t": "2024-03-20T11:46", "d": 0.58}, {"t": "2024-03-20T11:53", "d": 0.77},
      {"t": "2024-03-20T12:20", "d": 0.35}, {"t": "2024-03-20T12:22", "d": 0.41}, {"t": "2024-03-20T12:25", "d": 1.33}, {"t": "2024-03-20T12:29", "d": 1.27}, {"t": "2024-03-20T12:36", "d": 0.94}, {"t": "2024-03-20T12:41", "d": 0.97}, {"t": "2024-03-20T12:44", "d": 1.20}, {"t": "2024-03-20T12:48", "d": 1.53}, {"t": "2024-03-20T12:52", "d": 1.72}, {"t": "2024-03-20T12:55", "d": 2.05}, {"t": "2024-03-20T12:59", "d": 1.53},
      {"t": "2024-03-20T13:02", "d": 1.00}, {"t": "2024-03-20T13:08", "d": 0.54}, {"t": "2024-03-20T13:17", "d": 0.48}, {"t": "2024-03-20T13:26", "d": 0.35}, {"t": "2024-03-20T13:33", "d": 0.15}, {"t": "2024-03-20T13:44", "d": 0.28}, {"t": "2024-03-20T13:54", "d": 0.22},
      {"t": "2024-03-20T14:03", "d": 0.15}, {"t": "2024-03-20T14:10", "d": 0.41}, {"t": "2024-03-20T14:19", "d": 0.28}, {"t": "2024-03-20T14:26", "d": 0.41}, {"t": "2024-03-20T14:37", "d": 0.22}, {"t": "2024-03-20T14:44", "d": 0.41}, {"t": "2024-03-20T14:55", "d": 0.28},
      {"t": "2024-03-20T15:05", "d": 0.35}, {"t": "2024-03-20T15:13", "d": 0.15}, {"t": "2024-03-20T15:20", "d": 0.02}, {"t": "2024-03-20T15:27", "d": -0.08}, {"t": "2024-03-20T15:34", "d": -0.01}, {"t": "2024-03-20T15:44", "d": -0.05}, {"t": "2024-03-20T15:53", "d": 0.22}, {"t": "2024-03-20T15:59", "d": -0.18},
      {"t": "2024-03-20T16:10", "d": 0.15}, {"t": "2024-03-20T16:17", "d": -0.11}, {"t": "2024-03-20T16:28", "d": 0.09}, {"t": "2024-03-20T16:38", "d": 0.02}, {"t": "2024-03-20T16:49", "d": -0.01},
      {"t": "2024-03-20T17:00", "d": -0.05}, {"t": "2024-03-20T17:10", "d": -0.01}, {"t": "2024-03-20T17:21", "d": -0.01}, {"t": "2024-03-20T17:32", "d": -0.11}, {"t": "2024-03-20T17:43", "d": 0.02}, {"t": "2024-03-20T17:53", "d": -0.08},
      {"t": "2024-03-20T18:00", "d": 0.05}, {"t": "2024-03-20T18:06", "d": -0.05}, {"t": "2024-03-20T18:12", "d": -0.44}, {"t": "2024-03-20T18:18", "d": -0.05}, {"t": "2024-03-20T18:28", "d": 0.09}, {"t": "2024-03-20T18:35", "d": 0.12}, {"t": "2024-03-20T18:43", "d": -0.11}, {"t": "2024-03-20T18:50", "d": 0.05}, {"t": "2024-03-20T18:57", "d": -0.31},
      {"t": "2024-03-20T19:04", "d": -0.05}, {"t": "2024-03-20T19:11", "d": -0.08}, {"t": "2024-03-20T19:19", "d": -0.01}, {"t": "2024-03-20T19:25", "d": -0.37}, {"t": "2024-03-20T19:32", "d": -0.18}, {"t": "2024-03-20T19:38", "d": -0.05},
      {"t": "2024-03-20T20:31", "d": -0.77}, {"t": "2024-03-20T20:35", "d": -0.41}, {"t": "2024-03-20T20:40", "d": -0.57}, {"t": "2024-03-20T20:46", "d": -0.44}, {"t": "2024-03-20T20:49", "d": -0.80}, {"t": "2024-03-20T20:55", "d": -0.47},
      {"t": "2024-03-20T21:00", "d": -0.64}, {"t": "2024-03-20T21:05", "d": -0.44}, {"t": "2024-03-20T21:11", "d": -0.18}, {"t": "2024-03-20T21:17", "d": -0.31}, {"t": "2024-03-20T21:23", "d": -0.57}, {"t": "2024-03-20T21:32", "d": -0.54}, {"t": "2024-03-20T21:37", "d": -0.70}, {"t": "2024-03-20T21:48", "d": -0.57}, {"t": "2024-03-20T21:57", "d": -0.77},
      {"t": "2024-03-20T22:02", "d": -0.93}, {"t": "2024-03-20T22:10", "d": -0.64}, {"t": "2024-03-20T22:17", "d": -0.54}, {"t": "2024-03-20T22:24", "d": -0.64}, {"t": "2024-03-20T22:34", "d": -0.57}, {"t": "2024-03-20T22:45", "d": -0.70}, {"t": "2024-03-20T22:55", "d": -0.60},
      {"t": "2024-03-20T23:02", "d": -0.54}, {"t": "2024-03-20T23:10", "d": -0.64}, {"t": "2024-03-20T23:17", "d": -0.57}, {"t": "2024-03-20T23:28", "d": -0.44}, {"t": "2024-03-20T23:35", "d": -0.57}, {"t": "2024-03-20T23:42", "d": -0.47}, {"t": "2024-03-20T23:50", "d": -0.57}, {"t": "2024-03-20T23:58", "d": -0.70}
    ],
    "fv": [
      {"t": "2024-03-20T00:00", "v": 0.0064}, {"t": "2024-03-20T00:02", "v": 0.0040}, {"t": "2024-03-20T00:06", "v": 0.0035}, {"t": "2024-03-20T00:10", "v": 0.0040}, {"t": "2024-03-20T00:13", "v": 0.0161}, {"t": "2024-03-20T00:17", "v": 0.0098}, {"t": "2024-03-20T00:20", "v": 0.0080}, {"t": "2024-03-20T00:23", "v": 0.0107}, {"t": "2024-03-20T00:26", "v": 0.0049}, {"t": "2024-03-20T00:29", "v": 0.0139},
      {"t": "2024-03-20T00:33", "v": 0.0062}, {"t": "2024-03-20T00:36", "v": 0.0080}, {"t": "2024-03-20T00:40", "v": 0.0062}, {"t": "2024-03-20T00:45", "v": 0.0074}, {"t": "2024-03-20T00:50", "v": 0.0112}, {"t": "2024-03-20T00:54", "v": 0.0067}, {"t": "2024-03-20T00:59", "v": 0.0062},
      {"t": "2024-03-20T01:07", "v": 0.0107}, {"t": "2024-03-20T01:12", "v": 0.0085}, {"t": "2024-03-20T01:16", "v": 0.0112}, {"t": "2024-03-20T01:19", "v": 0.0080}, {"t": "2024-03-20T01:22", "v": 0.0225}, {"t": "2024-03-20T01:25", "v": 0.0089}, {"t": "2024-03-20T01:30", "v": 0.0094}, {"t": "2024-03-20T01:35", "v": 0.0080}, {"t": "2024-03-20T01:40", "v": 0.0310}, {"t": "2024-03-20T01:44", "v": 0.0125}, {"t": "2024-03-20T01:49", "v": 0.0062}, {"t": "2024-03-20T01:58", "v": 0.0107},
      {"t": "2024-03-20T02:05", "v": 0.0071}, {"t": "2024-03-20T02:12", "v": 0.0076}, {"t": "2024-03-20T02:18", "v": 0.0107}, {"t": "2024-03-20T02:23", "v": 0.0071}, {"t": "2024-03-20T02:30", "v": 0.0062}, {"t": "2024-03-20T02:36", "v": 0.0049}, {"t": "2024-03-20T02:39", "v": 0.0107}, {"t": "2024-03-20T02:45", "v": 0.0062}, {"t": "2024-03-20T02:52", "v": 0.0085}, {"t": "2024-03-20T02:59", "v": 0.0116},
      {"t": "2024-03-20T03:02", "v": 0.0067}, {"t": "2024-03-20T03:08", "v": 0.0053}, {"t": "2024-03-20T03:13", "v": 0.0040}, {"t": "2024-03-20T03:20", "v": 0.0044}, {"t": "2024-03-20T03:27", "v": 0.0040}, {"t": "2024-03-20T03:34", "v": 0.0049}, {"t": "2024-03-20T03:40", "v": 0.0080}, {"t": "2024-03-20T03:45", "v": 0.0053}, {"t": "2024-03-20T03:52", "v": 0.0049}, {"t": "2024-03-20T03:57", "v": 0.0062},
      {"t": "2024-03-20T04:03", "v": 0.0121}, {"t": "2024-03-20T04:08", "v": 0.0080}, {"t": "2024-03-20T04:12", "v": 0.0080}, {"t": "2024-03-20T04:17", "v": 0.0067}, {"t": "2024-03-20T04:25", "v": 0.0166}, {"t": "2024-03-20T04:29", "v": 0.0080}, {"t": "2024-03-20T04:35", "v": 0.0071}, {"t": "2024-03-20T04:42", "v": 0.0058}, {"t": "2024-03-20T04:49", "v": 0.0094}, {"t": "2024-03-20T04:54", "v": 0.0112},
      {"t": "2024-03-20T05:00", "v": 0.0134}, {"t": "2024-03-20T05:07", "v": 0.0085}, {"t": "2024-03-20T05:14", "v": 0.0080}, {"t": "2024-03-20T05:18", "v": 0.0134}, {"t": "2024-03-20T05:23", "v": 0.0085}, {"t": "2024-03-20T05:28", "v": 0.0143}, {"t": "2024-03-20T05:35", "v": 0.0107}, {"t": "2024-03-20T05:42", "v": 0.0103}, {"t": "2024-03-20T05:48", "v": 0.0139}, {"t": "2024-03-20T05:53", "v": 0.0155}, {"t": "2024-03-20T05:57", "v": 0.0098},
      {"t": "2024-03-20T06:02", "v": 0.0107}, {"t": "2024-03-20T06:08", "v": 0.0089}, {"t": "2024-03-20T06:13", "v": 0.0189}, {"t": "2024-03-20T06:17", "v": 0.0107}, {"t": "2024-03-20T06:20", "v": 0.0252}, {"t": "2024-03-20T06:24", "v": 0.0112}, {"t": "2024-03-20T06:29", "v": 0.0175}, {"t": "2024-03-20T06:32", "v": 0.0103}, {"t": "2024-03-20T06:38", "v": 0.0125}, {"t": "2024-03-20T06:43", "v": 0.0171}, {"t": "2024-03-20T06:47", "v": 0.0231}, {"t": "2024-03-20T06:50", "v": 0.0161}, {"t": "2024-03-20T06:56", "v": 0.0125},
      {"t": "2024-03-20T07:03", "v": 0.0103}, {"t": "2024-03-20T07:08", "v": 0.0085}, {"t": "2024-03-20T07:12", "v": 0.0112}, {"t": "2024-03-20T07:15", "v": 0.0076}, {"t": "2024-03-20T07:19", "v": 0.0107}, {"t": "2024-03-20T07:22", "v": 0.0053}, {"t": "2024-03-20T07:28", "v": 0.0026}, {"t": "2024-03-20T07:33", "v": 0.0031}, {"t": "2024-03-20T07:38", "v": 0.0058}, {"t": "2024-03-20T07:42", "v": 0.0098}, {"t": "2024-03-20T07:45", "v": 0.0058}, {"t": "2024-03-20T07:49", "v": 0.0092}, {"t": "2024-03-20T07:52", "v": 0.0053}, {"t": "2024-03-20T07:58", "v": 0.0044},
      {"t": "2024-03-20T08:07", "v": 0.0062}, {"t": "2024-03-20T08:10", "v": 0.0040}, {"t": "2024-03-20T08:16", "v": 0.0049}, {"t": "2024-03-20T08:25", "v": 0.0037}, {"t": "2024-03-20T08:34", "v": 0.0076}, {"t": "2024-03-20T08:39", "v": 0.0098}, {"t": "2024-03-20T08:46", "v": 0.0107}, {"t": "2024-03-20T08:52", "v": 0.0125}, {"t": "2024-03-20T08:57", "v": 0.0080},
      {"t": "2024-03-20T09:02", "v": 0.0053}, {"t": "2024-03-20T09:11", "v": 0.0044}, {"t": "2024-03-20T09:20", "v": 0.0058}, {"t": "2024-03-20T09:27", "v": 0.0035}, {"t": "2024-03-20T09:36", "v": 0.0058}, {"t": "2024-03-20T09:41", "v": 0.0040}, {"t": "2024-03-20T09:49", "v": 0.0044}, {"t": "2024-03-20T09:56", "v": 0.0058},
      {"t": "2024-03-20T10:01", "v": 0.0098}, {"t": "2024-03-20T10:04", "v": 0.0125}, {"t": "2024-03-20T10:08", "v": 0.0058}, {"t": "2024-03-20T10:13", "v": 0.0076}, {"t": "2024-03-20T10:20", "v": 0.0067}, {"t": "2024-03-20T10:26", "v": 0.0094}, {"t": "2024-03-20T10:31", "v": 0.0080}, {"t": "2024-03-20T10:38", "v": 0.0071}, {"t": "2024-03-20T10:46", "v": 0.0071}, {"t": "2024-03-20T10:53", "v": 0.0067},
      {"t": "2024-03-20T11:02", "v": 0.0040}, {"t": "2024-03-20T11:05", "v": 0.0089}, {"t": "2024-03-20T11:10", "v": 0.0112}, {"t": "2024-03-20T11:16", "v": 0.0062}, {"t": "2024-03-20T11:21", "v": 0.0067}, {"t": "2024-03-20T11:25", "v": 0.0211}, {"t": "2024-03-20T11:29", "v": 0.0134}, {"t": "2024-03-20T11:32", "v": 0.0252}, {"t": "2024-03-20T11:37", "v": 0.0098}, {"t": "2024-03-20T11:40", "v": 0.0134}, {"t": "2024-03-20T11:46", "v": 0.0089}, {"t": "2024-03-20T11:52", "v": 0.0182}, {"t": "2024-03-20T11:55", "v": 0.0125},
      {"t": "2024-03-20T12:22", "v": 0.0049}, {"t": "2024-03-20T12:27", "v": 0.0065}, {"t": "2024-03-20T12:32", "v": 0.0053}, {"t": "2024-03-20T12:40", "v": 0.0035}, {"t": "2024-03-20T12:47", "v": 0.0031}, {"t": "2024-03-20T12:53", "v": 0.0037},
      {"t": "2024-03-20T13:01", "v": 0.0031}, {"t": "2024-03-20T13:06", "v": 0.0022}, {"t": "2024-03-20T13:11", "v": 0.0035}, {"t": "2024-03-20T13:17", "v": 0.0031}, {"t": "2024-03-20T13:22", "v": 0.0049}, {"t": "2024-03-20T13:28", "v": 0.0022}, {"t": "2024-03-20T13:36", "v": 0.0049}, {"t": "2024-03-20T13:43", "v": 0.0022}, {"t": "2024-03-20T13:54", "v": 0.0019},
      {"t": "2024-03-20T14:03", "v": 0.0026}, {"t": "2024-03-20T14:09", "v": 0.0062}, {"t": "2024-03-20T14:14", "v": 0.0017}, {"t": "2024-03-20T14:21", "v": 0.0017}, {"t": "2024-03-20T14:26", "v": 0.0040}, {"t": "2024-03-20T14:30", "v": 0.0017}, {"t": "2024-03-20T14:41", "v": 0.0017}, {"t": "2024-03-20T14:59", "v": 0.0010},
      {"t": "2024-03-20T15:20", "v": 0.0008}, {"t": "2024-03-20T15:41", "v": 0.0008}, {"t": "2024-03-20T16:10", "v": 0.0006}, {"t": "2024-03-20T16:46", "v": 0.0005}, {"t": "2024-03-20T17:10", "v": 0.0006}, {"t": "2024-03-20T17:21", "v": 0.0005}, {"t": "2024-03-20T18:14", "v": 0.0006}, {"t": "2024-03-20T19:00", "v": 0.0006}, {"t": "2024-03-20T19:20", "v": 0.0007}, {"t": "2024-03-20T19:38", "v": 0.0009},
      {"t": "2024-03-20T20:31", "v": 0.0004}, {"t": "2024-03-20T20:33", "v": 0.0010}, {"t": "2024-03-20T20:55", "v": 0.0015}, {"t": "2024-03-20T21:16", "v": 0.0017}, {"t": "2024-03-20T21:23", "v": 0.0026}, {"t": "2024-03-20T21:30", "v": 0.0020}, {"t": "2024-03-20T21:37", "v": 0.0035}, {"t": "2024-03-20T21:43", "v": 0.0022},
      {"t": "2024-03-20T22:06", "v": 0.0024}, {"t": "2024-03-20T22:20", "v": 0.0031}, {"t": "2024-03-20T22:34", "v": 0.0035}, {"t": "2024-03-20T22:49", "v": 0.0044}, {"t": "2024-03-20T22:52", "v": 0.0035},
      {"t": "2024-03-20T23:07", "v": 0.0049}, {"t": "2024-03-20T23:13", "v": 0.0040}, {"t": "2024-03-20T23:24", "v": 0.0053}, {"t": "2024-03-20T23:31", "v": 0.0044}, {"t": "2024-03-20T23:35", "v": 0.0071}, {"t": "2024-03-20T23:40", "v": 0.0049}, {"t": "2024-03-20T23:47", "v": 0.0044}, {"t": "2024-03-20T23:54", "v": 0.0067}, {"t": "2024-03-20T23:58", "v": 0.0049}
    ]
  },
  "vconcat": [
    {
      "width": 1346,
      "height": 480,
      "title": {"text": "(a)", "anchor": "start", "frame": "group"},
      "layer": [
        {
          "data": {"name": "shade"},
          "mark": {"type": "rect", "color": "gray", "opacity": 0.18},
          "encoding": {
            "x": {"field": "start", "type": "temporal", "title": null,
                  "scale": {"domain": [{"year": 2024, "month": 3, "date": 20, "hours": 0}, {"year": 2024, "month": 3, "date": 20, "hours": 23, "minutes": 58}], "nice": false},
                  "axis": {"labels": false, "title": null, "tickCount": 8}},
            "x2": {"field": "end"}
          }
        },
        {
          "data": {"name": "band"},
          "mark": {"type": "area", "color": "#1f77b4", "opacity": 1},
          "encoding": {
            "x": {"field": "t", "type": "temporal", "title": null},
            "y": {"field": "dl", "type": "quantitative", "title": "Doppler Shift [Hz]",
                  "scale": {"domain": [-6.0, 3.38], "nice": false, "zero": false},
                  "axis": {"values": [-4, -2, 0, 2], "format": "d"}},
            "y2": {"field": "dh"},
            "detail": {"field": "s", "type": "nominal"}
          }
        },
        {
          "data": {"name": "band"},
          "transform": [{"fold": ["dl", "dh"], "as": ["edge", "d"]}],
          "mark": {"type": "point", "filled": true, "opacity": 1, "size": 32},
          "encoding": {
            "x": {"field": "t", "type": "temporal", "title": null},
            "y": {"field": "d", "type": "quantitative", "title": "Doppler Shift [Hz]"},
            "color": {"datum": "Raw Data", "type": "nominal",
                      "scale": {"domain": ["Raw Data", "Butterworth Filtered Data", "(N=6, Tc=3.3333 min, Type: low)"], "range": ["#1f77b4", "#ff7f0e", "transparent"]},
                      "legend": {"title": null}},
            "shape": {"datum": "Raw Data", "type": "nominal",
                      "scale": {"domain": ["Raw Data", "Butterworth Filtered Data", "(N=6, Tc=3.3333 min, Type: low)"], "range": ["circle", "M-7,0H7", "M-7,0H7"]},
                      "legend": {"title": null}}
          }
        },
        {
          "data": {"name": "od"},
          "mark": {"type": "point", "filled": true, "opacity": 1, "size": 32},
          "encoding": {
            "x": {"field": "t", "type": "temporal", "title": null},
            "y": {"field": "d", "type": "quantitative", "title": "Doppler Shift [Hz]"},
            "color": {"datum": "Raw Data", "type": "nominal"},
            "shape": {"datum": "Raw Data", "type": "nominal"}
          }
        },
        {
          "data": {"name": "fd"},
          "mark": {"type": "line", "strokeWidth": 2},
          "encoding": {
            "x": {"field": "t", "type": "temporal", "title": null},
            "y": {"field": "d", "type": "quantitative", "title": "Doppler Shift [Hz]"},
            "color": {"datum": "Butterworth Filtered Data", "type": "nominal"}
          }
        }
      ]
    },
    {
      "width": 1346,
      "height": 478,
      "title": {"text": "(b)", "anchor": "start", "frame": "group"},
      "layer": [
        {
          "data": {"name": "shade"},
          "mark": {"type": "rect", "color": "gray", "opacity": 0.18},
          "encoding": {
            "x": {"field": "start", "type": "temporal", "title": "UTC",
                  "scale": {"domain": [{"year": 2024, "month": 3, "date": 20, "hours": 0}, {"year": 2024, "month": 3, "date": 20, "hours": 23, "minutes": 58}], "nice": false},
                  "axis": {"title": "UTC", "format": "%m-%d %H", "tickCount": 8, "labelAngle": -30, "labelAlign": "right", "labelBaseline": "top", "labelOverlap": false, "labelFlush": false, "labelPadding": 1, "labelOffset": -11, "titlePadding": 6}},
            "x2": {"field": "end"}
          }
        },
        {
          "data": {"name": "band"},
          "mark": {"type": "area", "color": "#1f77b4", "opacity": 1},
          "encoding": {
            "x": {"field": "t", "type": "temporal", "title": "UTC"},
            "y": {"field": "vl", "type": "quantitative", "title": "Peak Voltage [V]",
                  "scale": {"domain": [-0.0027, 0.0621], "nice": false, "zero": false},
                  "axis": {"values": [0, 0.01, 0.02, 0.03, 0.04, 0.05, 0.06], "format": ".2f"}},
            "y2": {"field": "vh"},
            "detail": {"field": "s", "type": "nominal"}
          }
        },
        {
          "data": {"name": "band"},
          "transform": [{"fold": ["vl", "vh"], "as": ["edge", "v"]}],
          "mark": {"type": "point", "filled": true, "opacity": 1, "size": 32},
          "encoding": {
            "x": {"field": "t", "type": "temporal", "title": "UTC"},
            "y": {"field": "v", "type": "quantitative", "title": "Peak Voltage [V]"},
            "color": {"datum": "Raw Data", "type": "nominal",
                      "scale": {"domain": ["Raw Data", "Butterworth Filtered Data", "(N=6, Tc=3.3333 min, Type: low)"], "range": ["#1f77b4", "#ff7f0e", "transparent"]},
                      "legend": {"title": null}},
            "shape": {"datum": "Raw Data", "type": "nominal",
                      "scale": {"domain": ["Raw Data", "Butterworth Filtered Data", "(N=6, Tc=3.3333 min, Type: low)"], "range": ["circle", "M-7,0H7", "M-7,0H7"]},
                      "legend": {"title": null}}
          }
        },
        {
          "data": {"name": "ov"},
          "mark": {"type": "point", "filled": true, "opacity": 1, "size": 32},
          "encoding": {
            "x": {"field": "t", "type": "temporal", "title": "UTC"},
            "y": {"field": "v", "type": "quantitative", "title": "Peak Voltage [V]"},
            "color": {"datum": "Raw Data", "type": "nominal"},
            "shape": {"datum": "Raw Data", "type": "nominal"}
          }
        },
        {
          "data": {"name": "fv"},
          "mark": {"type": "line", "strokeWidth": 2},
          "encoding": {
            "x": {"field": "t", "type": "temporal", "title": "UTC"},
            "y": {"field": "v", "type": "quantitative", "title": "Peak Voltage [V]"},
            "color": {"datum": "Butterworth Filtered Data", "type": "nominal"}
          }
        }
      ]
    }
  ],
  "spacing": 16,
  "resolve": {
    "scale": {"color": "independent", "shape": "independent"},
    "legend": {"color": "independent", "shape": "independent"}
  },
  "config": {
    "font": "DejaVu Sans",
    "view": {"stroke": "black", "strokeWidth": 1.3},
    "title": {"fontSize": 26.5, "fontWeight": "bold", "color": "black", "offset": 6},
    "axis": {
      "domain": false,
      "labelFontSize": 21, "labelFontWeight": "bold", "labelColor": "black",
      "titleFontSize": 22, "titleFontWeight": "bold", "titleColor": "black",
      "tickColor": "black", "tickSize": 6, "tickWidth": 1.2, "labelPadding": 5, "titlePadding": 8,
      "gridColor": "#b0b0b0", "gridDash": [1.2, 2.2], "gridWidth": 0.9
    },
    "legend": {
      "orient": "top-right", "offset": 9,
      "fillColor": "rgba(255,255,255,0.8)", "strokeColor": "#cccccc", "cornerRadius": 4, "padding": 7,
      "labelFontSize": 18.5, "labelFontWeight": "bold", "labelColor": "black", "labelLimit": 800,
      "symbolSize": 32, "symbolOffset": 10, "labelOffset": 23,
      "symbolStrokeWidth": 2.2, "rowPadding": 5
    }
  }
}
